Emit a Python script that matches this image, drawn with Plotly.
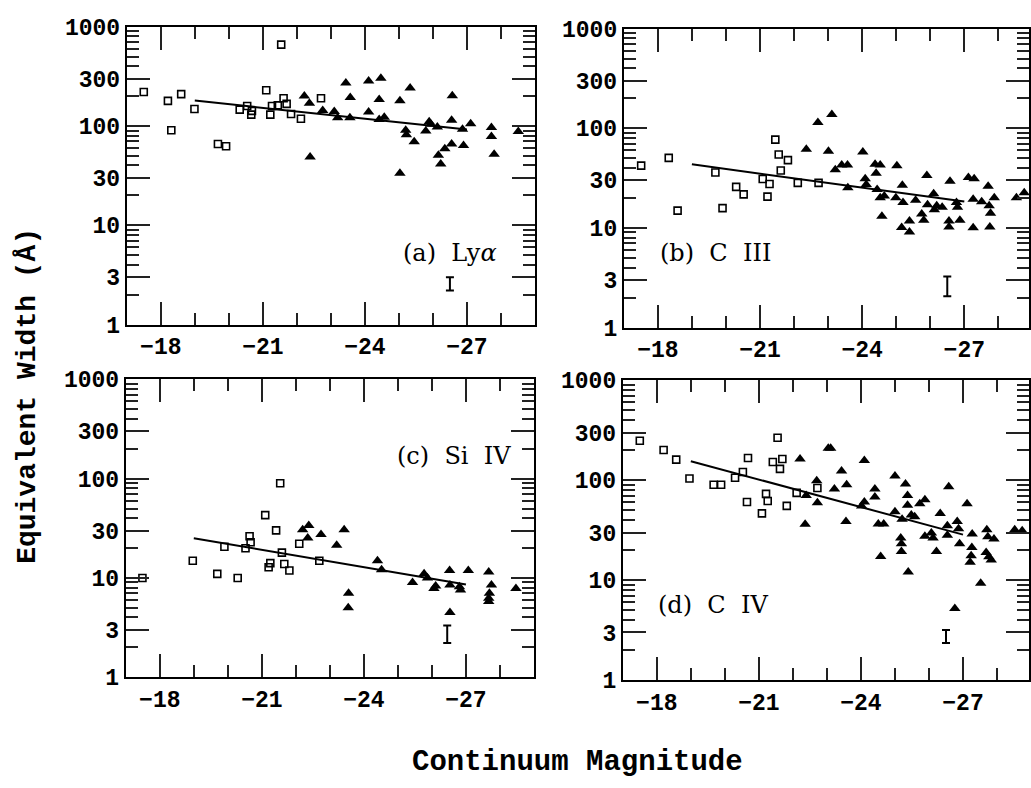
import plotly.graph_objects as go

# ---------------- data ----------------
lya_sq_mag = [-17.50, -18.21, -18.31, -18.60, -18.99, -19.68, -19.92, -20.32, -20.54, -20.66, -20.68,
              -21.10, -21.22, -21.27, -21.44, -21.54, -21.61, -21.70, -21.83, -22.12, -22.71]
lya_sq_ew = [220, 179, 90.5, 209, 148, 65.9, 62.5, 146, 159, 130, 142,
             229, 130, 159, 161, 659, 190, 167, 132, 118, 190]
lya_tri_mag = [-22.22, -22.37, -22.39, -22.76, -23.10, -23.20, -23.44, -23.57, -23.56, -24.11, -24.11,
               -24.47, -24.42, -24.42, -24.57, -25.03, -25.03, -25.20, -25.22, -25.33, -25.45, -25.79,
               -25.89, -25.94, -26.13, -26.16, -26.23, -26.35, -26.55, -26.57, -26.55, -26.87, -26.90,
               -27.11, -27.72, -27.72, -27.80, -28.51]
lya_tri_ew = [200, 169, 48.7, 143, 140, 121, 270, 193, 121, 283, 138,
              303, 185, 116, 122, 179, 33.4, 90.5, 81.5, 241, 69.5, 89.1,
              110, 104, 97.6, 50.6, 41.3, 58.9, 65.9, 201, 114, 92.6, 63.5,
              105, 96.2, 78.4, 51.8, 87.9]
lya_fit_mag = [-19, -27]
lya_fit_ew = [180, 92]

c3_sq_mag = [-17.51, -18.32, -18.58, -19.69, -19.90, -20.30, -20.52, -21.08, -21.22, -21.28, -21.45,
             -21.55, -21.61, -21.82, -22.11, -22.72]
c3_sq_ew = [42.1, 50.4, 14.9, 35.9, 15.8, 25.8, 21.7, 30.9, 20.6, 27.6, 76.9,
            54.4, 37.6, 47.8, 28.3, 28.3]
c3_tri_mag = [-22.36, -22.70, -23.11, -23.01, -23.21, -23.40, -23.57, -23.58, -24.02, -24.09, -24.12,
              -24.38, -24.41, -24.53, -24.44, -24.53, -24.65, -24.58, -25.02, -24.99, -25.18, -25.20,
              -25.16, -25.39, -25.39, -25.57, -25.75, -25.81, -25.90, -25.92, -26.10, -26.12, -26.19,
              -26.35, -26.58, -26.55, -26.55, -26.77, -26.80, -26.87, -27.12, -27.29, -27.26, -27.26,
              -27.51, -27.70, -27.73, -27.77, -27.88, -27.75, -28.53, -28.76]
c3_tri_ew = [61.4, 114, 137, 58.6, 38.2, 42.7, 42.7, 25.2, 57.7, 31.2, 27.2,
             43.4, 35.4, 42.7, 24.3, 20.1, 20.9, 13.1, 42.1, 20.1, 26.8, 18.0,
             10.1, 11.7, 9.1, 18.9, 13.8, 11.9, 33.6, 17.1, 22.0, 15.2, 16.7,
             16.1, 29.3, 11.7, 10.2, 18.0, 16.1, 11.9, 32.1, 31.2, 19.4, 10.0,
             18.3, 26.2, 16.7, 14.0, 20.1, 10.2, 20.1, 22.5]
c3_fit_mag = [-19, -27]
c3_fit_ew = [43.4, 18.4]

si4_sq_mag = [-17.49, -18.97, -19.69, -19.90, -20.29, -20.52, -20.64, -20.67, -21.10, -21.20, -21.25,
              -21.42, -21.54, -21.59, -21.66, -21.81, -22.10, -22.69]
si4_sq_ew = [10.0, 14.9, 11.0, 20.6, 10.0, 19.9, 26.3, 22.9, 42.9, 12.8, 14.1,
             30.1, 89.8, 18.0, 13.8, 11.9, 22.1, 14.9]
si4_tri_mag = [-22.20, -22.38, -22.35, -22.74, -23.20, -23.42, -23.55, -23.54, -24.40, -24.52, -25.43,
               -25.77, -25.87, -26.06, -26.11, -26.52, -26.53, -26.53, -26.81, -26.84, -27.07, -27.67,
               -27.75, -27.69, -27.67, -27.67, -28.47]
si4_tri_ew = [30.5, 33.7, 25.3, 27.3, 21.3, 30.5, 7.0, 5.0, 14.9, 12.1, 9.0,
              11.0, 10.0, 7.85, 8.28, 11.9, 8.47, 4.5, 8.15, 7.56, 11.9, 11.5,
              8.47, 7.0, 6.26, 5.8, 7.85]
si4_fit_mag = [-19, -27]
si4_fit_ew = [25.1, 8.6]

c4_sq_mag = [-17.50, -18.20, -18.57, -18.96, -19.67, -19.89, -20.30, -20.53, -20.68, -20.65, -21.09,
             -21.21, -21.26, -21.41, -21.55, -21.62, -21.69, -21.82, -22.11, -22.72]
c4_sq_ew = [248, 201, 161, 104, 90.2, 90.2, 106, 121, 167, 60.6, 46.6,
            73.1, 62.0, 152, 266, 130, 163, 55.4, 74.7, 83.6]
c4_tri_mag = [-22.21, -22.36, -22.39, -22.70, -22.72, -23.04, -23.11, -23.22, -23.43, -23.58, -23.56,
              -24.02, -24.10, -24.10, -24.41, -24.41, -24.51, -24.67, -24.58, -25.00, -25.00, -25.17,
              -25.19, -25.19, -25.21, -25.31, -25.37, -25.37, -25.39, -25.48, -25.58, -25.73, -25.88,
              -25.88, -26.07, -26.12, -26.22, -26.33, -26.54, -26.54, -26.58, -26.76, -26.83, -26.87,
              -26.90, -27.12, -27.27, -27.26, -27.24, -27.21, -27.52, -27.70, -27.73, -27.68, -27.76,
              -27.83, -27.91, -28.52, -28.74]
c4_tri_ew = [163, 36.4, 70.4, 98.7, 59.7, 209, 209, 81.8, 124, 90.2, 38.6,
             55.4, 158, 60.6, 81.8, 67.8, 36.6, 36.6, 17.3, 110, 48.4, 26.5,
             23.2, 19.4, 40.7, 91.6, 70.4, 56.2, 12.1, 44.9, 43.2, 58.3, 63.8,
             27.6, 29.7, 26.5, 19.4, 46.6, 35.0, 28.2, 86.2, 5.2, 38.6, 32.7,
             23.2, 58.3, 29.0, 21.2, 17.6, 15.1, 9.3, 32.0, 27.2, 18.9, 17.2,
             15.9, 25.9, 32.0, 31.3]
c4_fit_mag = [-19, -27]
c4_fit_ew = [155, 28.6]

err_mag = [-26.5, -26.5, -26.45, -26.5]
err_lo = [2.2, 2.06, 2.21, 2.36]
err_hi = [3.0, 3.25, 3.32, 3.17]

panel_labels = ["(a)  Ly<i>α</i>", "(b)  C  III", "(c)  Si  IV", "(d)  C  IV"]

y_tickvals = [1, 3, 10, 30, 100, 300, 1000]
y_ticktext = ["1", "3", "10", "30", "100", "300", "1000"]

TICK_COLOR = "#222222"

# ---------------- geometry (pixel boxes in the page) ----------------
W, H = 1031, 788
ML, MR, MT, MB = 4, 0, 4, 4
PW, PH = W - ML - MR, H - MT - MB


def fx(px):
    return (px - ML) / PW


def fy(py):
    return (H - MB - py) / PH


boxes = [(127, 536, 20, 325), (625, 1031, 22, 328), (126, 535, 381, 686), (624, 1031, 382, 689)]
x_end = [-29, -28.9, -29, -28.94]
label_pos = [(0.672, 0.239), (0.084, 0.248), (0.660, 0.741), (0.082, 0.251)]

datasets = [
    (lya_sq_mag, lya_sq_ew, lya_tri_mag, lya_tri_ew, lya_fit_mag, lya_fit_ew),
    (c3_sq_mag, c3_sq_ew, c3_tri_mag, c3_tri_ew, c3_fit_mag, c3_fit_ew),
    (si4_sq_mag, si4_sq_ew, si4_tri_mag, si4_tri_ew, si4_fit_mag, si4_fit_ew),
    (c4_sq_mag, c4_sq_ew, c4_tri_mag, c4_tri_ew, c4_fit_mag, c4_fit_ew),
]

fig = go.Figure()
tick_font = dict(family="Liberation Mono", size=23, color="black", weight="bold")

for i, (sm, se, tm, te, fm, fe) in enumerate(datasets):
    n = "" if i == 0 else str(i + 1)
    xa, ya = "x" + n, "y" + n
    fig.add_trace(go.Scatter(x=fm, y=fe, mode="lines", xaxis=xa, yaxis=ya,
                             line=dict(color="black", width=2), showlegend=False))
    fig.add_trace(go.Scatter(x=sm, y=se, mode="markers", xaxis=xa, yaxis=ya,
                             marker=dict(symbol="square-open", size=7, color="black",
                                         line=dict(width=1.6, color="black")), showlegend=False))
    fig.add_trace(go.Scatter(x=tm, y=te, mode="markers", xaxis=xa, yaxis=ya,
                             marker=dict(symbol="triangle-up", size=10, color="black",
                                         line=dict(width=0)), showlegend=False))
    fig.add_trace(go.Scatter(x=[err_mag[i]], y=[err_lo[i]], mode="markers", xaxis=xa, yaxis=ya,
                             marker=dict(size=1, color="rgba(0,0,0,0)"),
                             error_y=dict(type="data", symmetric=False,
                                          array=[err_hi[i] - err_lo[i]], arrayminus=[0],
                                          width=4, thickness=2, color="black"),
                             showlegend=False))

    l, r, t, b = boxes[i]
    fig.update_layout({
        "xaxis" + n: dict(
            domain=[fx(l), min(1.0, fx(r))], range=[-17, x_end[i]], anchor=ya,
            tickmode="linear", tick0=-18, dtick=3,
            ticks="inside", ticklen=23, tickwidth=2, tickcolor=TICK_COLOR,
            minor=dict(ticks="inside", dtick=1, ticklen=12, tickwidth=2, tickcolor=TICK_COLOR,
                       showgrid=False),
            showline=True, linewidth=2, linecolor="black", mirror="ticks", layer="above traces",
            showgrid=False, zeroline=False, tickfont=tick_font,
        ),
        "yaxis" + n: dict(
            domain=[fy(b), fy(t)], type="log", range=[0, 3], anchor=xa,
            tickmode="array", tickvals=y_tickvals, ticktext=y_ticktext,
            ticks="inside", ticklen=23, tickwidth=2, tickcolor=TICK_COLOR,
            minor=dict(ticks="inside", dtick="D1", ticklen=12, tickwidth=2, tickcolor=TICK_COLOR,
                       showgrid=False),
            showline=True, linewidth=2, linecolor="black", mirror="ticks", layer="above traces",
            showgrid=False, zeroline=False, tickfont=tick_font,
        ),
    })
    lx, ly = label_pos[i]
    fig.add_annotation(text=panel_labels[i], xref=xa + " domain", yref=ya + " domain",
                       x=lx, y=ly, xanchor="left", yanchor="middle", showarrow=False,
                       font=dict(family="DejaVu Serif", size=24, color="black"))

fig.add_annotation(text="Continuum Magnitude", xref="paper", yref="paper",
                   x=fx(579), y=fy(773), xanchor="center", yanchor="middle",
                   showarrow=False,
                   font=dict(family="Liberation Mono", size=29, color="black", weight="bold"))
fig.add_annotation(text="Equivalent Width (Å)", xref="paper", yref="paper",
                   x=fx(28), y=fy(398), xanchor="center", yanchor="middle", textangle=-90,
                   showarrow=False,
                   font=dict(family="Liberation Mono", size=28, color="black", weight="bold"))

fig.update_layout(template="simple_white", width=W, height=H,
                  margin=dict(l=ML, r=MR, t=MT, b=MB), showlegend=False)

fig.write_html("out.html", config={"displayModeBar": False},
               post_script="document.body.style.margin='0';document.body.style.overflow='hidden';")
